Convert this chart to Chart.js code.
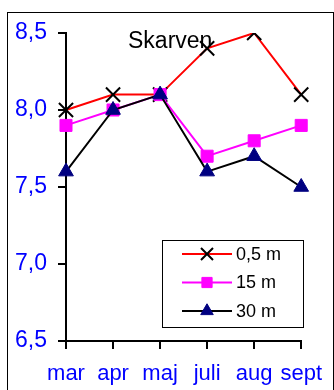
<!DOCTYPE html>
<html>
<head>
<meta charset="utf-8">
<script src="https://cdn.jsdelivr.net/npm/chart.js@4"></script>
<style>
  html, body { margin: 0; padding: 0; background: #fff; }
  #wrap { position: relative; width: 334px; height: 390px; }
</style>
</head>
<body>
<div id="wrap"><canvas id="chart" width="334" height="390"></canvas></div>
<script>
// Skarven: monthly values at three depths
const months = ['mar', 'apr', 'maj', 'juli', 'aug', 'sept'];
const depth05 = [8.0, 8.1, 8.1, 8.4, 8.5, 8.1];
const depth15 = [7.9, 8.0, 8.1, 7.7, 7.8, 7.9];
const depth30 = [7.6, 8.0, 8.1, 7.6, 7.7, 7.5];
const seriesLabels = ['0,5 m', '15 m', '30 m'];
const yTicks = [6.5, 7.0, 7.5, 8.0, 8.5];

const FONT = '"Liberation Sans", Arial, sans-serif';

// frame, title and the boxed legend
const decorations = {
    id: 'decorations',
    beforeDatasetsDraw(chart) {
        const ctx = chart.ctx;
        ctx.save();
        ctx.strokeStyle = '#000';
        ctx.lineWidth = 1;
        ctx.strokeRect(7.5, 12.5, 326, 400);
        ctx.fillStyle = '#000';
        ctx.font = '23px ' + FONT;
        ctx.textBaseline = 'alphabetic';
        ctx.fillText('Skarven', 128, 48);
        ctx.restore();
    },
    afterDraw(chart) {
        const ctx = chart.ctx;
        ctx.save();
        ctx.fillStyle = '#fff';
        ctx.fillRect(162, 240, 141, 87);
        ctx.strokeStyle = '#000';
        ctx.lineWidth = 1;
        ctx.strokeRect(162.5, 240.5, 141, 87);
        chart.data.datasets.forEach(function(ds, i) {
            const y = 254 + i * 28.5;
            ctx.strokeStyle = ds.borderColor;
            ctx.lineWidth = 2;
            ctx.beginPath();
            ctx.moveTo(182, y);
            ctx.lineTo(232, y);
            ctx.stroke();
            ctx.fillStyle = ds.pointBackgroundColor;
            ctx.strokeStyle = ds.pointBorderColor;
            ctx.lineWidth = ds.pointBorderWidth;
            Chart.helpers.drawPoint(ctx, {
                pointStyle: ds.pointStyle,
                radius: ds.pointRadius * 0.85,
                rotation: 0,
                borderWidth: ds.pointBorderWidth
            }, 207, y);
            ctx.fillStyle = '#000';
            ctx.font = '18px ' + FONT;
            ctx.textBaseline = 'middle';
            ctx.fillText(ds.label, 236, y + 1);
        });
        ctx.restore();
    }
};

new Chart(document.getElementById('chart').getContext('2d'), {
    type: 'line',
    data: {
        labels: months,
        datasets: [{
            label: seriesLabels[0],
            data: depth05,
            borderColor: '#ff0000',
            borderWidth: 2,
            pointStyle: 'crossRot',
            pointRadius: 10,
            pointBorderColor: '#000',
            pointBackgroundColor: '#000',
            pointBorderWidth: 2,
            order: 3
        }, {
            label: seriesLabels[1],
            data: depth15,
            borderColor: '#ff00ff',
            borderWidth: 2,
            pointStyle: 'rect',
            pointRadius: 8.5,
            pointBorderColor: '#ff00ff',
            pointBackgroundColor: '#ff00ff',
            pointBorderWidth: 1,
            order: 2
        }, {
            label: seriesLabels[2],
            data: depth30,
            borderColor: '#000',
            borderWidth: 2,
            pointStyle: 'triangle',
            pointRadius: 8.5,
            pointBorderColor: '#000080',
            pointBackgroundColor: '#000080',
            pointBorderWidth: 1,
            order: 1
        }]
    },
    options: {
        responsive: false,
        animation: false,
        layout: { padding: { left: 0, top: 33, right: 25, bottom: 0 } },
        plugins: {
            legend: { display: false },
            tooltip: { enabled: false }
        },
        scales: {
            x: {
                offset: false,
                afterFit: function(scale) { scale.height = 49; },
                grid: { drawOnChartArea: false, drawTicks: true, tickLength: 8, color: '#000', lineWidth: 2 },
                border: { display: true, color: '#000', width: 2 },
                ticks: { color: '#0000ff', font: { family: FONT, size: 22 }, padding: 12, maxRotation: 0, autoSkip: false }
            },
            y: {
                min: yTicks[0],
                max: yTicks[yTicks.length - 1],
                afterFit: function(scale) { scale.width = 66; },
                afterBuildTicks: function(scale) {
                    scale.ticks = yTicks.map(function(v) { return { value: v }; });
                },
                grid: { drawOnChartArea: false, drawTicks: true, tickLength: 8, color: '#000', lineWidth: 2 },
                border: { display: true, color: '#000', width: 2 },
                ticks: {
                    color: '#0000ff',
                    font: { family: FONT, size: 23 },
                    padding: 11,
                    callback: function(v) { return v.toFixed(1).replace('.', ','); }
                }
            }
        }
    },
    plugins: [decorations]
});
</script>
</body>
</html>
